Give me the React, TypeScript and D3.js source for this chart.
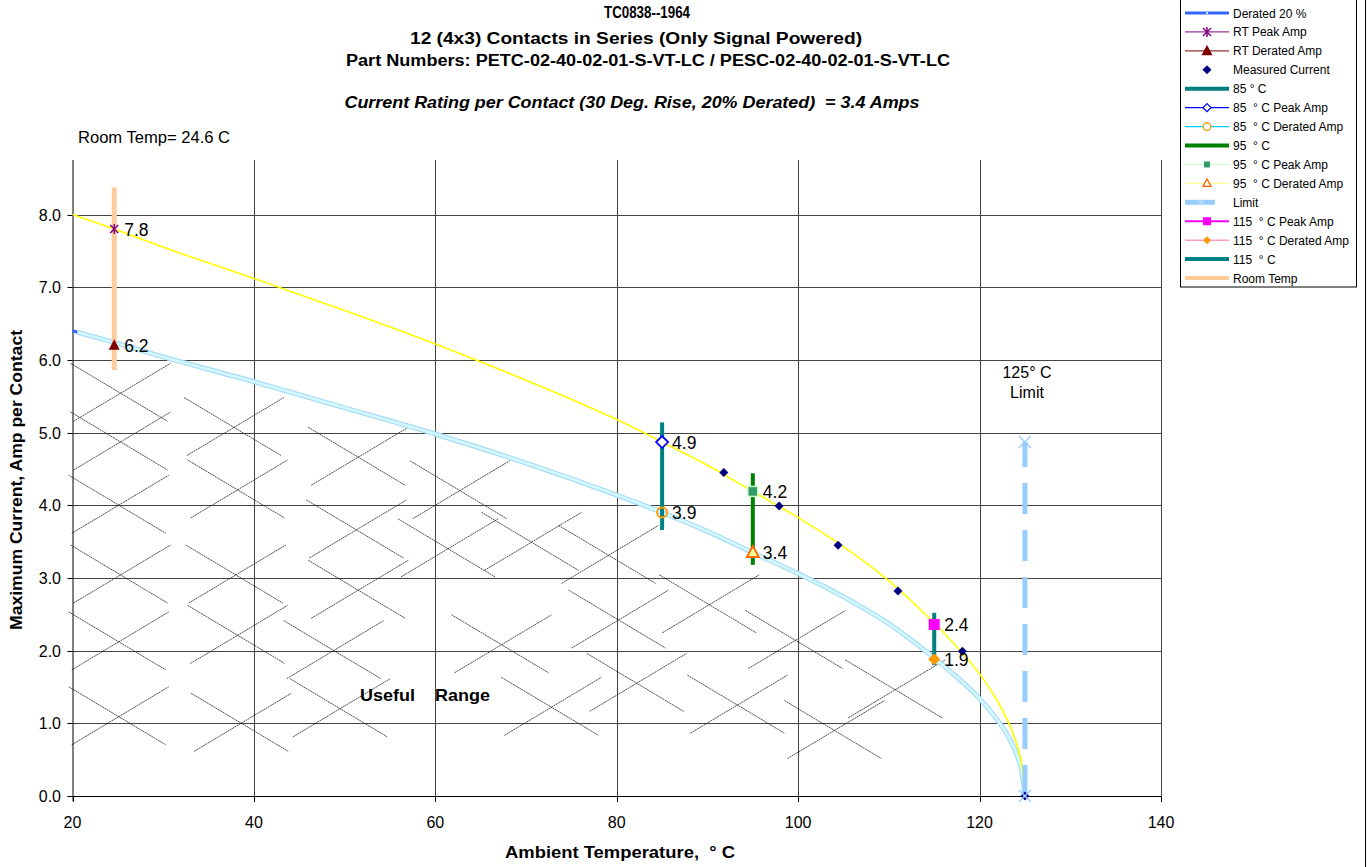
import React from "react";
import * as d3 from "d3";

// ---------- data ----------
const curveTemps = [20, 24.6, 30, 40, 50, 60, 70, 80, 85, 90, 95, 100, 105, 110, 115, 118, 120, 122, 123.5, 124.5, 125];
const peakAmps = [8.0, 7.8, 7.55, 7.12, 6.68, 6.22, 5.72, 5.18, 4.87, 4.55, 4.19, 3.83, 3.43, 2.96, 2.38, 1.98, 1.68, 1.3, 0.92, 0.53, 0];
const deratedAmps = [6.4, 6.24, 6.04, 5.7, 5.34, 4.98, 4.58, 4.14, 3.9, 3.64, 3.35, 3.06, 2.74, 2.37, 1.9, 1.58, 1.34, 1.04, 0.74, 0.42, 0];

const measuredTemps = [91.8, 97.9, 104.4, 111.0, 118.1, 125];
const measuredAmps = [4.45, 3.99, 3.45, 2.82, 1.99, 0];

const roomTemp = 24.6;
const roomTempBar = [5.86, 8.37];
const bar85 = [3.66, 5.14];
const bar95 = [3.18, 4.44];
const bar115 = [1.8, 2.52];
const limitTemp = 125;
const limitBar = [0, 4.87];

const pointTemps = [24.6, 24.6, 85, 85, 95, 95, 115, 115];
const pointAmps = [7.8, 6.2, 4.87, 3.9, 4.19, 3.35, 2.36, 1.88];
const pointLabels = ["7.8", "6.2", "4.9", "3.9", "4.2", "3.4", "2.4", "1.9"];
const pointKinds = ["star", "tri", "diamondHollow", "circleHollow", "square95", "tri95", "square115", "diamond115"];

const xTicks = [20, 40, 60, 80, 100, 120, 140];
const yTicks = [0, 1, 2, 3, 4, 5, 6, 7, 8];

const hatchTemps = [25.1, 25.1, 25.3, 25.1, 25.3, 25.3, 38.6, 38.2, 38.0, 38.2, 37.8, 51.5, 51.3, 51.5, 48.8, 49.5, 62.7, 61.4, 67.3, 72.8, 70.6, 82.2, 80.2, 79.1, 90.2, 93.3, 99.7, 110.7, 104.0];
const hatchAmps = [1.09, 2.12, 3.04, 4.0, 4.87, 5.54, 1.0, 2.21, 3.04, 4.21, 5.07, 4.66, 3.66, 2.83, 2.0, 1.2, 4.2, 3.4, 2.08, 1.22, 3.49, 1.55, 2.42, 3.31, 2.63, 1.25, 2.14, 1.46, 0.9];

const legendLabels = [
  "Derated 20 %", "RT Peak Amp", "RT Derated Amp", "Measured Current", "85 ° C",
  "85  ° C Peak Amp", "85  ° C Derated Amp", "95  ° C", "95  ° C Peak Amp", "95  ° C Derated Amp",
  "Limit", "115  ° C Peak Amp", "115  ° C Derated Amp", "115  ° C", "Room Temp",
];

// ---------- layout ----------
const W = 1367, H = 867;
const plotTop = 160;
const x = d3.scaleLinear().domain([20, 140]).range([72.5, 1161]);
const y = d3.scaleLinear().domain([0, 8]).range([796, 214.5]);
const FONT = "'Liberation Sans', Arial, sans-serif";

function Marker({ kind, cx, cy }: { kind: string; cx: number; cy: number }) {
  switch (kind) {
    case "star":
      return (
        <g stroke="#800080" strokeWidth={1.5}>
          <line x1={cx - 4} y1={cy - 4} x2={cx + 4} y2={cy + 4} />
          <line x1={cx - 4} y1={cy + 4} x2={cx + 4} y2={cy - 4} />
          <line x1={cx} y1={cy - 5} x2={cx} y2={cy + 5} />
        </g>
      );
    case "tri":
      return <path d={`M${cx},${cy - 6}L${cx + 5.5},${cy + 4.5}L${cx - 5.5},${cy + 4.5}Z`} fill="#800000" />;
    case "diamondHollow":
      return <path d={`M${cx},${cy - 6}L${cx + 6},${cy}L${cx},${cy + 6}L${cx - 6},${cy}Z`} fill="#fff" stroke="#0000ff" strokeWidth={1.8} />;
    case "circleHollow":
      return <circle cx={cx} cy={cy} r={5} fill="none" stroke="#ff9900" strokeWidth={1.8} />;
    case "square95":
      return <rect x={cx - 5} y={cy - 5} width={10} height={10} fill="#339966" stroke="#ccffcc" strokeWidth={1.5} />;
    case "tri95":
      return <path d={`M${cx},${cy - 6.5}L${cx + 6},${cy + 4.5}L${cx - 6},${cy + 4.5}Z`} fill="#ffff99" stroke="#ff6600" strokeWidth={1.8} />;
    case "square115":
      return <rect x={cx - 5.5} y={cy - 5.5} width={11} height={11} fill="#ff00ff" />;
    case "diamond115":
      return <path d={`M${cx},${cy - 6}L${cx + 6},${cy}L${cx},${cy + 6}L${cx - 6},${cy}Z`} fill="#ff9900" />;
    case "navy":
      return <path d={`M${cx},${cy - 4.5}L${cx + 4.5},${cy}L${cx},${cy + 4.5}L${cx - 4.5},${cy}Z`} fill="#000080" />;
    case "xLimit":
      return (
        <g stroke="#99ccff" strokeWidth={1.5}>
          <line x1={cx - 6} y1={cy - 6} x2={cx + 6} y2={cy + 6} />
          <line x1={cx - 6} y1={cy + 6} x2={cx + 6} y2={cy - 6} />
        </g>
      );
    default:
      return null;
  }
}

function LegendSample({ i, yy }: { i: number; yy: number }) {
  const x1 = 1185, x2 = 1229, mx = (x1 + x2) / 2;
  const ln = (c: string, w: number, xe = x2) => <line x1={x1} y1={yy} x2={xe} y2={yy} stroke={c} strokeWidth={w} />;
  switch (i) {
    case 0: return <g>{ln("#3366ff", 3)}<circle cx={mx} cy={yy} r={1} fill="#fff" /></g>;
    case 1: return <g>{ln("#993399", 1.2)}<Marker kind="star" cx={mx} cy={yy} /></g>;
    case 2: return <g>{ln("#993333", 1.2)}<Marker kind="tri" cx={mx} cy={yy} /></g>;
    case 3: return <Marker kind="navy" cx={mx} cy={yy} />;
    case 4: return ln("#008080", 4);
    case 5: return <g>{ln("#0000ff", 1.2)}<path d={`M${mx},${yy - 4}L${mx + 4},${yy}L${mx},${yy + 4}L${mx - 4},${yy}Z`} fill="#fff" stroke="#0000ff" strokeWidth={1.3} /></g>;
    case 6: return <g>{ln("#00ccff", 1.2)}<circle cx={mx} cy={yy} r={3.8} fill="#fff" stroke="#ff9900" strokeWidth={1.3} /></g>;
    case 7: return ln("#008000", 4);
    case 8: return <g>{ln("#ccffcc", 1.2)}<rect x={mx - 3} y={yy - 3} width={6} height={6} fill="#339966" /></g>;
    case 9: return <g>{ln("#ffff99", 1.2)}<path d={`M${mx},${yy - 4.5}L${mx + 4},${yy + 3}L${mx - 4},${yy + 3}Z`} fill="#fff" stroke="#ff6600" strokeWidth={1.3} /></g>;
    case 10: return <g>{ln("#99ccff", 5, 1215)}<path d={`M${1198},${yy - 3}L${1204},${yy + 3}M${1198},${yy + 3}L${1204},${yy - 3}`} stroke="#cce6ff" strokeWidth={1} /></g>;
    case 11: return <g>{ln("#ff00ff", 2)}<rect x={mx - 4} y={yy - 4} width={8} height={8} fill="#ff00ff" /></g>;
    case 12: return <g>{ln("#ff99cc", 1.5)}<path d={`M${mx},${yy - 4}L${mx + 4},${yy}L${mx},${yy + 4}L${mx - 4},${yy}Z`} fill="#ff9900" /></g>;
    case 13: return ln("#008080", 4);
    case 14: return ln("#ffcc99", 4);
    default: return null;
  }
}

export default function App() {
  const line = d3.line<number>().x((_, i) => x(curveTemps[i])).y((d) => y(d)).curve(d3.curveCatmullRom.alpha(0.5));
  const peakPath = line(peakAmps) || "";
  const deratedPath = line(deratedAmps) || "";

  const vbar = (t: number, r: number[], c: string, w: number) => (
    <line x1={x(t)} x2={x(t)} y1={y(r[0])} y2={y(r[1])} stroke={c} strokeWidth={w} />
  );

  return (
    <svg width={W} height={H} style={{ position: "absolute", left: 0, top: 0, background: "#fff" }} fontFamily={FONT}>
      <defs>
        <clipPath id="clipRight">
          <rect x={x(20) + 5} y={0} width={W} height={H} />
        </clipPath>
      </defs>
      <rect x={0} y={0} width={W} height={H} fill="#fff" />
      {/* titles */}
      <g fontWeight="bold" fontSize={16} textAnchor="middle" fill="#000">
        <text x={647} y={18} textLength={86} lengthAdjust="spacingAndGlyphs">TC0838--1964</text>
        <text x={636} y={44} textLength={452} lengthAdjust="spacingAndGlyphs">12 (4x3) Contacts in Series (Only Signal Powered)</text>
        <text x={648} y={66} textLength={604} lengthAdjust="spacingAndGlyphs">Part Numbers: PETC-02-40-02-01-S-VT-LC / PESC-02-40-02-01-S-VT-LC</text>
        <text x={632} y={108} fontStyle="italic" textLength={575} lengthAdjust="spacingAndGlyphs" style={{ whiteSpace: "pre" }}>Current Rating per Contact (30 Deg. Rise, 20% Derated)  = 3.4 Amps</text>
      </g>
      <text x={78} y={143} fontSize={16} textLength={152} lengthAdjust="spacingAndGlyphs">Room Temp= 24.6 C</text>

      {/* grid */}
      <g stroke="#444" strokeWidth={1}>
        {yTicks.filter((t) => t > 0).map((t) => (
          <line key={"h" + t} x1={x(20)} x2={x(140)} y1={Math.round(y(t)) + 0.5} y2={Math.round(y(t)) + 0.5} />
        ))}
        {xTicks.filter((t) => t > 20).map((t) => (
          <line key={"v" + t} x1={Math.round(x(t)) + 0.5} x2={Math.round(x(t)) + 0.5} y1={plotTop} y2={y(0)} />
        ))}
      </g>

      {/* hatch crosses */}
      <g stroke="#222" strokeWidth={0.8} strokeDasharray="2 0.6">
        {hatchTemps.map((t, i) => {
          const cx = x(t), cy = y(hatchAmps[i]);
          return (
            <g key={"hx" + i}>
              <line x1={cx - 47} y1={cy + 28} x2={cx + 50} y2={cy - 30} />
              <line x1={cx - 50} y1={cy - 30} x2={cx + 47} y2={cy + 28} />
            </g>
          );
        })}
      </g>

      {/* axes */}
      <g stroke="#000" strokeWidth={1}>
        <line x1={x(20) + 0.5} x2={x(20) + 0.5} y1={plotTop} y2={y(0) + 5} />
        <line x1={x(20) - 5} x2={x(140)} y1={y(0) + 0.5} y2={y(0) + 0.5} />
        {yTicks.map((t) => (
          <line key={"yt" + t} x1={x(20) - 5} x2={x(20)} y1={Math.round(y(t)) + 0.5} y2={Math.round(y(t)) + 0.5} />
        ))}
        {xTicks.map((t) => (
          <line key={"xt" + t} x1={Math.round(x(t)) + 0.5} x2={Math.round(x(t)) + 0.5} y1={y(0)} y2={y(0) + 6} />
        ))}
      </g>
      <g fontSize={16} fill="#000">
        {yTicks.map((t) => (
          <text key={"yl" + t} x={61} y={y(t) + 6} textAnchor="end">{t.toFixed(1)}</text>
        ))}
        {xTicks.map((t) => (
          <text key={"xl" + t} x={x(t)} y={828} textAnchor="middle">{t}</text>
        ))}
      </g>
      <text x={620} y={858} textAnchor="middle" fontSize={16} fontWeight="bold" textLength={230} lengthAdjust="spacingAndGlyphs" style={{ whiteSpace: "pre" }}>Ambient Temperature,  ° C</text>
      <text transform={`translate(22,480) rotate(-90)`} textAnchor="middle" fontSize={16} fontWeight="bold" textLength={300} lengthAdjust="spacingAndGlyphs">Maximum Current, Amp per Contact</text>

      {/* curves */}
      <path d={deratedPath} fill="none" stroke="#3366ff" strokeWidth={3} />
      <path d={deratedPath} fill="none" stroke="#a9dcf7" strokeWidth={5} clipPath="url(#clipRight)" />
      <path d={deratedPath} fill="none" stroke="#d4f8ff" strokeWidth={2.6} clipPath="url(#clipRight)" />
      <path d={peakPath} fill="none" stroke="#ffff00" strokeWidth={1.6} />

      {/* vertical bars */}
      {vbar(roomTemp, roomTempBar, "#ffcc99", 5)}
      {vbar(85, bar85, "#008080", 4)}
      {vbar(95, bar95, "#008000", 4)}
      {vbar(115, bar115, "#008080", 4)}
      <line x1={x(limitTemp)} x2={x(limitTemp)} y1={y(limitBar[0])} y2={y(limitBar[1])} stroke="#99ccff" strokeWidth={5} strokeDasharray="31 16" />

      {/* measured */}
      {measuredTemps.map((t, i) => (
        <Marker key={"m" + i} kind="navy" cx={x(t)} cy={y(measuredAmps[i])} />
      ))}
      <circle cx={x(125)} cy={y(0)} r={1.3} fill="#fff" />
      <Marker kind="xLimit" cx={x(limitTemp)} cy={y(limitBar[1])} />
      <Marker kind="xLimit" cx={x(limitTemp)} cy={y(limitBar[0])} />

      {/* labelled points */}
      {pointTemps.map((t, i) => (
        <g key={"p" + i}>
          <Marker kind={pointKinds[i]} cx={x(t)} cy={y(pointAmps[i])} />
          <text x={x(t) + 10} y={y(pointAmps[i]) + 6.5} fontSize={17.5} fill="#000">{pointLabels[i]}</text>
        </g>
      ))}

      <g fontSize={16} textAnchor="middle" fill="#000">
        <text x={1027} y={378}>125° C</text>
        <text x={1027} y={398}>Limit</text>
      </g>
      <text x={360} y={701} fontSize={17} fontWeight="bold" textLength={130} lengthAdjust="spacingAndGlyphs" style={{ whiteSpace: "pre" }}>Useful    Range</text>

      {/* legend */}
      <rect x={1180.5} y={-1} width={176} height={288} fill="#fff" stroke="#000" strokeWidth={1} />
      <line x1={1365.5} x2={1365.5} y1={0} y2={H} stroke="#000" strokeWidth={1} />
      {legendLabels.map((lab, i) => {
        const yy = 13 + i * 18.93;
        return (
          <g key={"lg" + i}>
            <LegendSample i={i} yy={yy} />
            <text x={1233} y={yy + 4.5} fontSize={12} fill="#000" style={{ whiteSpace: "pre" }}>{lab}</text>
          </g>
        );
      })}
    </svg>
  );
}
